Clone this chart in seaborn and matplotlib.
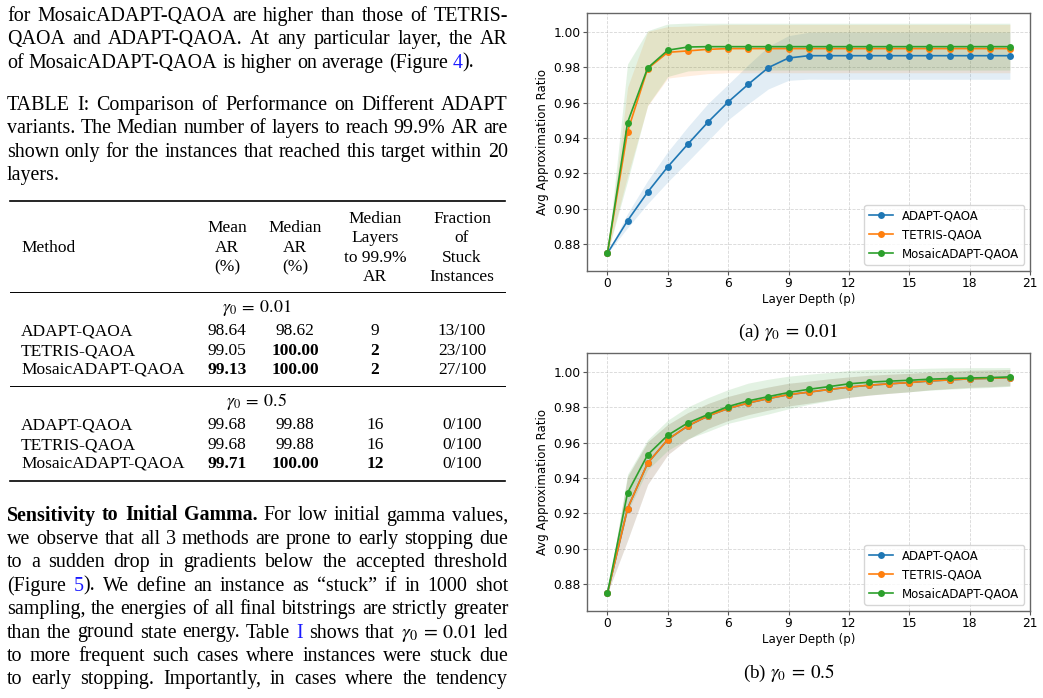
import re
import matplotlib
matplotlib.use("Agg")
import matplotlib.pyplot as plt
from matplotlib.transforms import IdentityTransform
from matplotlib.lines import Line2D
import numpy as np
import pandas as pd
import seaborn as sns

# ---------------- data ----------------
layers = list(range(21))
methods = ["ADAPT-QAOA", "TETRIS-QAOA", "MosaicADAPT-QAOA"]
colors = ["#1f77b4", "#ff7f0e", "#2ca02c"]

# (a) gamma0 = 0.01
adapt_a = [0.875, 0.8934, 0.9095, 0.9238, 0.9366, 0.9490, 0.9603, 0.9703, 0.9797, 0.9851, 0.9864,
           0.9864, 0.9864, 0.9864, 0.9864, 0.9864, 0.9864, 0.9864, 0.9864, 0.9864, 0.9864]
adapt_a_sd = [0.0, 0.004, 0.0065, 0.0085, 0.0098, 0.0105, 0.0100, 0.0110, 0.0120, 0.0126, 0.0132,
              0.0133, 0.0133, 0.0133, 0.0133, 0.0133, 0.0133, 0.0133, 0.0133, 0.0133, 0.0133]
tetris_a = [0.875, 0.9436, 0.9791, 0.9883, 0.9891, 0.9900, 0.9904, 0.9904, 0.9904, 0.9904, 0.9904,
            0.9904, 0.9904, 0.9904, 0.9904, 0.9904, 0.9904, 0.9904, 0.9904, 0.9904, 0.9904]
tetris_a_sd = [0.0, 0.025, 0.021, 0.0145, 0.0140, 0.0137, 0.0136, 0.0136, 0.0136, 0.0136, 0.0136,
               0.0136, 0.0136, 0.0136, 0.0136, 0.0136, 0.0136, 0.0136, 0.0136, 0.0136, 0.0136]
mosaic_a = [0.875, 0.9487, 0.9795, 0.9895, 0.9913, 0.9915, 0.9915, 0.9915, 0.9915, 0.9915, 0.9915,
            0.9915, 0.9915, 0.9915, 0.9915, 0.9915, 0.9915, 0.9915, 0.9915, 0.9915, 0.9915]
mosaic_a_sd = [0.0, 0.033, 0.021, 0.0148, 0.0135, 0.0132, 0.0132, 0.0132, 0.0132, 0.0132, 0.0132,
               0.0132, 0.0132, 0.0132, 0.0132, 0.0132, 0.0132, 0.0132, 0.0132, 0.0132, 0.0132]

# (b) gamma0 = 0.5
adapt_b = [0.875, 0.9228, 0.9484, 0.9617, 0.9694, 0.9750, 0.9792, 0.9823, 0.9848, 0.9870, 0.9884,
           0.9899, 0.9912, 0.9923, 0.9931, 0.9938, 0.9947, 0.9953, 0.9959, 0.9962, 0.9966]
adapt_b_sd = [0.0, 0.018, 0.012, 0.0085, 0.0075, 0.0070, 0.0068, 0.0066, 0.0065, 0.0064, 0.0062,
              0.0060, 0.0058, 0.0056, 0.0054, 0.0052, 0.0050, 0.0049, 0.0048, 0.0047, 0.0046]
tetris_b = [0.875, 0.9228, 0.9484, 0.9617, 0.9694, 0.9750, 0.9792, 0.9823, 0.9848, 0.9870, 0.9884,
            0.9899, 0.9912, 0.9923, 0.9931, 0.9938, 0.9947, 0.9953, 0.9959, 0.9962, 0.9966]
tetris_b_sd = [0.0, 0.018, 0.012, 0.0085, 0.0075, 0.0070, 0.0068, 0.0066, 0.0065, 0.0064, 0.0062,
               0.0060, 0.0058, 0.0056, 0.0054, 0.0052, 0.0050, 0.0049, 0.0048, 0.0047, 0.0046]
mosaic_b = [0.875, 0.9316, 0.9531, 0.9641, 0.9711, 0.9758, 0.9803, 0.9835, 0.9859, 0.9882, 0.9900,
            0.9915, 0.9931, 0.9940, 0.9946, 0.9951, 0.9957, 0.9961, 0.9964, 0.9966, 0.9970]
mosaic_b_sd = [0.0, 0.0105, 0.0085, 0.0085, 0.0090, 0.0095, 0.0095, 0.0100, 0.0098, 0.0092, 0.0085,
               0.0080, 0.0075, 0.0072, 0.0068, 0.0065, 0.0062, 0.0060, 0.0058, 0.0056, 0.0053]

x_ticks = [0, 3, 6, 9, 12, 15, 18, 21]
y_ticks = [0.88, 0.90, 0.92, 0.94, 0.96, 0.98, 1.00]

# table
table_header = [["Method"], ["Mean", "AR", "(%)"], ["Median", "AR", "(%)"],
                ["Median", "Layers", "to 99.9%", "AR"], ["Fraction", "of", "Stuck", "Instances"]]
sec1_title = r"$\gamma_0\:=\:0.01$"
sec2_title = r"$\gamma_0\:=\:0.5$"
sec1_mean = ["98.64", "99.05", "99.13"]
sec1_median = ["98.62", "100.00", "100.00"]
sec1_layers = ["9", "2", "2"]
sec1_stuck = ["13/100", "23/100", "27/100"]
sec1_bold = [[False, False, False], [False, True, True], [True, True, True]]
sec2_mean = ["99.68", "99.68", "99.71"]
sec2_median = ["99.88", "99.88", "100.00"]
sec2_layers = ["16", "16", "12"]
sec2_stuck = ["0/100", "0/100", "0/100"]
sec2_bold = [[False, False, False], [False, False, False], [True, True, True]]

para1 = ["for MosaicADAPT-QAOA are higher than those of TETRIS-",
         "QAOA and ADAPT-QAOA. At any particular layer, the AR",
         "of MosaicADAPT-QAOA is higher on average (Figure {4})."]
caption = ["TABLE I: Comparison of Performance on Different ADAPT",
           "variants. The Median number of layers to reach 99.9% AR are",
           "shown only for the instances that reached this target within 20",
           "layers."]
sens = ["*Sensitivity *to *Initial *Gamma. For low initial gamma values,",
        "we observe that all 3 methods are prone to early stopping due",
        "to a sudden drop in gradients below the accepted threshold",
        "(Figure {5}). We define an instance as \u201cstuck\u201d if in 1000 shot",
        "sampling, the energies of all final bitstrings are strictly greater",
        "than the ground state energy. Table {I} shows that $\\gamma_0\\:=\\:0.01$ led",
        "to more frequent such cases where instances were stuck due",
        "to early stopping. Importantly, in cases where the tendency"]

# ---------------- figure ----------------
plt.rcParams["mathtext.fontset"] = "stix"
SERIF = "Liberation Serif"
W, H = 1043, 698
fig = plt.figure(figsize=(W / 100, H / 100), dpi=100)
fig.patch.set_facecolor("white")
renderer = fig.canvas.get_renderer()
T = IdentityTransform()
LINK = "#1a1aff"


def put(x, y, s, size, **kw):
    kw.setdefault("family", SERIF)
    kw.setdefault("va", "baseline")
    return fig.text(x, H - y, s, fontsize=size, transform=T, **kw)


def wpx(a):
    return a.get_window_extent(renderer).width


def parse_word(word):
    bold = word.startswith("*")
    if bold:
        word = word[1:]
    pieces = []
    for seg in re.split(r"(\{[^}]*\})", word):
        if not seg:
            continue
        if seg.startswith("{"):
            pieces.append((seg[1:-1], {"color": LINK}))
        else:
            pieces.append((seg, {"weight": "bold"} if bold else {}))
    return pieces


def build(line, y, size):
    groups = []
    for pieces in [parse_word(w) for w in line.split(" ")]:
        arts = [put(0, y, t, size, **kw) for t, kw in pieces]
        groups.append((arts, sum(wpx(a) for a in arts)))
    return groups


def text_line(line, x0, x1, y, size, justify):
    while True:
        groups = build(line, y, size)
        total = sum(g[1] for g in groups)
        n = len(groups)
        space = 0.25 * size * 100 / 72
        gap = (x1 - x0 - total) / (n - 1) if justify and n > 1 else space
        if gap >= 0.17 * size * 100 / 72 or size < 11:
            break
        for arts, _ in groups:
            for a in arts:
                a.remove()
        size -= 0.1
    x = x0
    for arts, w in groups:
        for a in arts:
            a.set_position((x, H - y))
            x += wpx(a)
        x += gap


BODY = 14.4
XL, XR = 7, 508
LS = 23.4
for i, line in enumerate(para1):
    text_line(line, XL, XR, 21 + i * LS, BODY, i < len(para1) - 1)
for i, line in enumerate(caption):
    text_line(line, XL, XR, 110 + i * LS, BODY, i < len(caption) - 1)
for i, line in enumerate(sens):
    text_line(line, XL, XR, 520.5 + i * LS, BODY, True)

# table
TS = 12.5


def rule(y, lw):
    fig.add_artist(Line2D([10, 505], [H - y, H - y], transform=T, color="black", lw=lw))


rule(201, 1.2)
rule(292, 0.7)
rule(386, 0.7)
rule(481, 1.2)
col_x = [21, 227, 295, 375, 462]
for ci, hdr in enumerate(table_header):
    n = len(hdr)
    center = 247
    for k, h in enumerate(hdr):
        yy = center + (k - (n - 1) / 2) * 19.5 + 5
        if ci == 0:
            put(col_x[0], yy, h, TS, ha="left")
        else:
            put(col_x[ci], yy, h, TS, ha="center")


def section(title, ytitle, rows_y, means, medians, lays, stuck, bolds):
    put(257, ytitle, title, TS + 0.5, ha="center")
    for r in range(3):
        y = rows_y[r]
        put(col_x[0], y, methods[r], TS, ha="left")
        vals = [means[r], medians[r], lays[r]]
        for c in range(3):
            put(col_x[c + 1], y, vals[c], TS, ha="center",
                weight="bold" if bolds[r][c] else "normal")
        put(col_x[4], y, stuck[r], TS, ha="center")


section(sec1_title, 312, [335, 355, 374], sec1_mean, sec1_median, sec1_layers, sec1_stuck, sec1_bold)
section(sec2_title, 406, [429, 449, 468], sec2_mean, sec2_median, sec2_layers, sec2_stuck, sec2_bold)

# captions for subfigures
put(788, 337, r"(a) $\gamma_0\:=\:0.01$", 13.8, ha="center")
put(789, 678, r"(b) $\gamma_0\:=\:0.5$", 13.8, ha="center")


# ---------------- charts ----------------
def panel(ax, means, sds):
    rows = []
    for m, vals in zip(methods, means):
        for l, v in zip(layers, vals):
            rows.append({"layer": l, "ar": v, "method": m})
    df = pd.DataFrame(rows)
    for vals, sd, c in zip(means, sds, colors):
        v = np.array(vals)
        s = np.array(sd)
        ax.fill_between(layers, v - s, v + s, color=c, alpha=0.13, lw=0, zorder=1)
    sns.lineplot(data=df, x="layer", y="ar", hue="method", hue_order=methods,
                 palette=colors, marker="o", markersize=5, markeredgewidth=0,
                 linewidth=1.2, errorbar=None, ax=ax, zorder=3)
    ax.set_xlim(-1, 21)
    ax.set_ylim(0.8652, 1.0103)
    ax.set_xticks(x_ticks)
    ax.set_yticks(y_ticks)
    ax.set_yticklabels([f"{t:.2f}" for t in y_ticks])
    ax.tick_params(labelsize=8.8, color="#555555", length=3, width=0.8, pad=1.8)
    ax.grid(True, ls="--", lw=0.6, color="#b0b0b0", alpha=0.5)
    ax.set_axisbelow(True)
    for sp in ax.spines.values():
        sp.set_color("#666666")
        sp.set_linewidth(1.0)
    ax.set_xlabel("Layer Depth (p)", fontsize=8.5, labelpad=2)
    ax.set_ylabel("Avg Approximation Ratio", fontsize=8.5, labelpad=3)
    sns.move_legend(ax, "lower right", title=None, fontsize=8.5, frameon=True)


ax1 = fig.add_axes([587.3 / W, 1 - 270.7 / H, (1030 - 587.3) / W, (270.7 - 13.3) / H])
panel(ax1, [adapt_a, tetris_a, mosaic_a], [adapt_a_sd, tetris_a_sd, mosaic_a_sd])
ax2 = fig.add_axes([587.3 / W, 1 - 610.7 / H, (1030 - 587.3) / W, (610.7 - 353.3) / H])
panel(ax2, [adapt_b, tetris_b, mosaic_b], [adapt_b_sd, tetris_b_sd, mosaic_b_sd])

fig.savefig("out.png", dpi=100, facecolor="white")
